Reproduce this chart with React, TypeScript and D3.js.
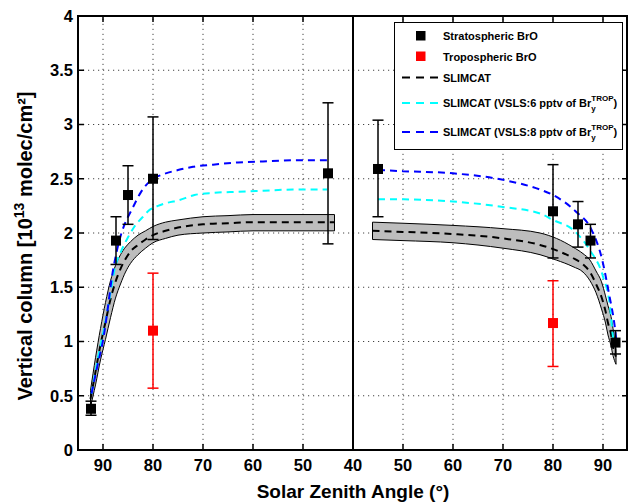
import React from "react";
import * as d3 from "d3";

// ---------- DATA ----------
const Y_TICKS = [0, 0.5, 1, 1.5, 2, 2.5, 3, 3.5, 4];
const Y_TICK_LABELS = ["0", "0.5", "1", "1.5", "2", "2.5", "3", "3.5", "4"];
const X_TICKS_LEFT = [90, 80, 70, 60, 50, 40];
const X_TICKS_RIGHT = [50, 60, 70, 80, 90];

// Stratospheric BrO (left = sunrise/AM branch, right = PM branch)
const stratSzaL = [92.4, 87.4, 85, 80, 45];
const stratValL = [0.38, 1.93, 2.35, 2.5, 2.55];
const stratLoL = [0.32, 1.71, 2.08, 1.94, 1.9];
const stratHiL = [0.45, 2.15, 2.62, 3.07, 3.2];

const stratSzaR = [45, 80, 85, 87.5, 92.5];
const stratValR = [2.59, 2.2, 2.08, 1.93, 0.99];
const stratLoR = [2.15, 1.77, 1.87, 1.77, 0.885];
const stratHiR = [3.04, 2.63, 2.29, 2.08, 1.1];

// Tropospheric BrO
const tropSzaL = [80];
const tropValL = [1.1];
const tropLoL = [0.57];
const tropHiL = [1.63];

const tropSzaR = [80];
const tropValR = [1.17];
const tropLoR = [0.77];
const tropHiR = [1.56];

// SLIMCAT (left) with uncertainty band
const slimSzaL = [92.5, 91.5, 90.5, 89.5, 88.5, 87.5, 86.5, 85.5, 84.5, 83, 81.5, 80, 77.5, 75, 70, 65, 60, 50, 43.7];
const slimValL = [0.47, 0.72, 0.97, 1.18, 1.39, 1.55, 1.67, 1.76, 1.83, 1.89, 1.94, 1.98, 2.02, 2.05, 2.08, 2.09, 2.1, 2.1, 2.1];
const slimHiL = [0.55, 0.85, 1.12, 1.36, 1.56, 1.7, 1.8, 1.87, 1.92, 1.98, 2.02, 2.06, 2.1, 2.12, 2.15, 2.16, 2.17, 2.17, 2.17];
const slimLoL = [0.4, 0.6, 0.83, 1.02, 1.22, 1.4, 1.53, 1.64, 1.72, 1.8, 1.86, 1.91, 1.95, 1.98, 2.0, 2.01, 2.02, 2.02, 2.02];

// SLIMCAT (right) with uncertainty band
const slimSzaR = [43.9, 50, 60, 70, 77.4, 80.7, 84, 86, 87.4, 88.6, 89.7, 90.5, 91, 91.6, 92, 92.6];
const slimValR = [2.02, 2.01, 1.99, 1.95, 1.89, 1.84, 1.77, 1.71, 1.64, 1.53, 1.41, 1.28, 1.17, 1.07, 0.95, 0.86];
const slimHiR = [2.1, 2.09, 2.07, 2.04, 2.0, 1.95, 1.87, 1.81, 1.75, 1.65, 1.55, 1.42, 1.33, 1.23, 1.12, 0.92];
const slimLoR = [1.94, 1.93, 1.91, 1.86, 1.8, 1.75, 1.69, 1.64, 1.56, 1.45, 1.3, 1.17, 1.06, 0.96, 0.87, 0.79];

// SLIMCAT VSLS 6 pptv (cyan)
const vsls6SzaL = [92.3, 91, 89.7, 88.5, 87.7, 86.3, 85, 83.7, 82, 81, 79, 77, 75, 71.7, 68, 63, 58, 52, 45.2];
const vsls6ValL = [0.52, 0.85, 1.14, 1.45, 1.66, 1.84, 1.96, 2.06, 2.15, 2.2, 2.25, 2.28, 2.3, 2.35, 2.37, 2.38, 2.39, 2.4, 2.4];
const vsls6SzaR = [45, 50, 60, 70, 77.4, 80, 84, 87.4, 90, 91.4, 92, 92.3];
const vsls6ValR = [2.31, 2.31, 2.29, 2.24, 2.18, 2.12, 2.03, 1.84, 1.6, 1.32, 1.04, 0.95];

// SLIMCAT VSLS 8 pptv (blue)
const vsls8SzaL = [92.3, 91, 90, 89, 88.3, 87.3, 86.3, 85.3, 84.3, 82.5, 80.3, 78, 75, 72, 68, 63, 58, 52, 45];
const vsls8ValL = [0.52, 0.8, 1.01, 1.32, 1.57, 1.82, 2.0, 2.12, 2.21, 2.37, 2.49, 2.54, 2.58, 2.61, 2.63, 2.65, 2.66, 2.67, 2.67];
const vsls8SzaR = [45, 50, 60, 70, 77.4, 80, 84.5, 87.7, 89.8, 91.2, 92.4, 92.7];
const vsls8ValR = [2.58, 2.57, 2.55, 2.49, 2.4, 2.35, 2.2, 2.03, 1.76, 1.44, 1.12, 1.0];

// ---------- LAYOUT ----------
const W = 629;
const H = 502;
const X0 = 78;
const XM = 353;
const X1 = 628;
const Y0 = 450;
const Y1 = 16;
const FONT = "'Liberation Sans', Arial, Helvetica, sans-serif";

const xL = d3.scaleLinear().domain([95, 40]).range([X0, XM]);
const xR = d3.scaleLinear().domain([40, 95]).range([XM, X1]);
const y = d3.scaleLinear().domain([0, 4]).range([Y0, Y1]);

type Sc = d3.ScaleLinear<number, number>;

function pts(sc: Sc, xs: number[], ys: number[]) {
  return xs.map((s, i) => [sc(s), y(ys[i])] as [number, number]).sort((a, b) => a[0] - b[0]);
}

const lineGen = d3.line<[number, number]>().curve(d3.curveMonotoneX);

function bandPath(sc: Sc, xs: number[], lo: number[], hi: number[]) {
  const d = xs
    .map((s, i) => ({ x: sc(s), lo: y(lo[i]), hi: y(hi[i]) }))
    .sort((a, b) => a.x - b.x);
  const a = d3
    .area<{ x: number; lo: number; hi: number }>()
    .x((p) => p.x)
    .y0((p) => p.lo)
    .y1((p) => p.hi)
    .curve(d3.curveMonotoneX);
  return a(d) || "";
}

function ErrPts(props: { sc: Sc; xs: number[]; v: number[]; lo: number[]; hi: number[]; color: string }) {
  const { sc, xs, v, lo, hi, color } = props;
  const cap = 5.5;
  const sq = 10;
  return (
    <g>
      {xs.map((s, i) => {
        const cx = sc(s);
        return (
          <g key={i}>
            <line x1={cx} x2={cx} y1={y(lo[i])} y2={y(hi[i])} stroke={color} strokeWidth={1.5} />
            <line x1={cx - cap} x2={cx + cap} y1={y(lo[i])} y2={y(lo[i])} stroke={color} strokeWidth={1.5} />
            <line x1={cx - cap} x2={cx + cap} y1={y(hi[i])} y2={y(hi[i])} stroke={color} strokeWidth={1.5} />
            <rect x={cx - sq / 2} y={y(v[i]) - sq / 2} width={sq} height={sq} fill={color} />
          </g>
        );
      })}
    </g>
  );
}

export default function App() {
  const gridDash = "1.2,3.8";
  const dash = "7,5";
  return (
    <svg
      width={W}
      height={H}
      style={{ position: "absolute", left: 0, top: 0, background: "#fff" }}
      fontFamily={FONT}
      fontWeight="bold"
    >
      <rect x={0} y={0} width={W} height={H} fill="#fff" />
      {/* grid */}
      <g stroke="#444" strokeWidth={1} strokeDasharray={gridDash}>
        {Y_TICKS.slice(1, -1).map((t) => (
          <line key={"gy" + t} x1={X0} x2={X1} y1={y(t)} y2={y(t)} />
        ))}
        {X_TICKS_LEFT.filter((t) => t !== 40).map((t) => (
          <line key={"gxl" + t} x1={xL(t)} x2={xL(t)} y1={Y0} y2={Y1} />
        ))}
        {X_TICKS_RIGHT.map((t) => (
          <line key={"gxr" + t} x1={xR(t)} x2={xR(t)} y1={Y0} y2={Y1} />
        ))}
      </g>

      {/* SLIMCAT bands */}
      <path d={bandPath(xL, slimSzaL, slimLoL, slimHiL)} fill="#bdbdbd" stroke="#000" strokeWidth={1} />
      <path d={bandPath(xR, slimSzaR, slimLoR, slimHiR)} fill="#bdbdbd" stroke="#000" strokeWidth={1} />

      {/* model lines */}
      <g fill="none" strokeWidth={2} strokeDasharray={dash}>
        <path d={lineGen(pts(xL, slimSzaL, slimValL)) || ""} stroke="#000" />
        <path d={lineGen(pts(xR, slimSzaR, slimValR)) || ""} stroke="#000" />
        <path d={lineGen(pts(xL, vsls6SzaL, vsls6ValL)) || ""} stroke="#00ffff" />
        <path d={lineGen(pts(xR, vsls6SzaR, vsls6ValR)) || ""} stroke="#00ffff" />
        <path d={lineGen(pts(xL, vsls8SzaL, vsls8ValL)) || ""} stroke="#0000ff" />
        <path d={lineGen(pts(xR, vsls8SzaR, vsls8ValR)) || ""} stroke="#0000ff" />
      </g>

      {/* observations */}
      <ErrPts sc={xL} xs={stratSzaL} v={stratValL} lo={stratLoL} hi={stratHiL} color="#000" />
      <ErrPts sc={xR} xs={stratSzaR} v={stratValR} lo={stratLoR} hi={stratHiR} color="#000" />
      <ErrPts sc={xL} xs={tropSzaL} v={tropValL} lo={tropLoL} hi={tropHiL} color="#ff0000" />
      <ErrPts sc={xR} xs={tropSzaR} v={tropValR} lo={tropLoR} hi={tropHiR} color="#ff0000" />

      {/* ticks */}
      <g stroke="#000" strokeWidth={1.5}>
        {Y_TICKS.map((t) => (
          <g key={"ty" + t}>
            <line x1={X0} x2={X0 + 6} y1={y(t)} y2={y(t)} />
            <line x1={X1 - 6} x2={X1} y1={y(t)} y2={y(t)} />
          </g>
        ))}
        {X_TICKS_LEFT.map((t) => (
          <g key={"txl" + t}>
            <line x1={xL(t)} x2={xL(t)} y1={Y0} y2={Y0 - 6} />
            <line x1={xL(t)} x2={xL(t)} y1={Y1} y2={Y1 + 6} />
          </g>
        ))}
        {X_TICKS_RIGHT.map((t) => (
          <g key={"txr" + t}>
            <line x1={xR(t)} x2={xR(t)} y1={Y0} y2={Y0 - 6} />
            <line x1={xR(t)} x2={xR(t)} y1={Y1} y2={Y1 + 6} />
          </g>
        ))}
      </g>

      {/* frame */}
      <rect x={X0} y={Y1} width={X1 - X0 - 1} height={Y0 - Y1} fill="none" stroke="#000" strokeWidth={2} />
      <line x1={XM} x2={XM} y1={Y1} y2={Y0} stroke="#000" strokeWidth={2} />

      {/* tick labels */}
      <g fontSize={16.5} fill="#000">
        {Y_TICKS.map((t, i) => (
          <text key={"ly" + t} x={X0 - 5} y={y(t)} dy="0.36em" textAnchor="end">
            {Y_TICK_LABELS[i]}
          </text>
        ))}
        {X_TICKS_LEFT.map((t) => (
          <text key={"lxl" + t} x={xL(t)} y={471} textAnchor="middle">
            {String(t)}
          </text>
        ))}
        {X_TICKS_RIGHT.map((t) => (
          <text key={"lxr" + t} x={xR(t)} y={471} textAnchor="middle">
            {String(t)}
          </text>
        ))}
      </g>

      {/* axis labels */}
      <text x={XM} y={498} textAnchor="middle" fontSize={19}>
        Solar Zenith Angle (°)
      </text>
      <text transform="translate(32,246) rotate(-90)" textAnchor="middle" fontSize={20}>
        Vertical column [10
        <tspan dy={-8} fontSize={14}>13</tspan>
        <tspan dy={8}> molec/cm²]</tspan>
      </text>

      {/* legend */}
      <g>
        <rect x={394.5} y={22.5} width={228} height={127} fill="#fff" stroke="#000" strokeWidth={1} />
        <rect x={416} y={31} width={9.5} height={9.5} fill="#000" />
        <rect x={416} y={51.5} width={9.5} height={9.5} fill="#ff0000" />
        <g strokeWidth={2} strokeDasharray="8,6">
          <line x1={402} x2={440} y1={77.5} y2={77.5} stroke="#000" />
          <line x1={402} x2={440} y1={103} y2={103} stroke="#00ffff" />
          <line x1={402} x2={440} y1={132} y2={132} stroke="#0000ff" />
        </g>
        <g fontSize={11} fill="#000">
          <text x={443} y={40}>Stratospheric BrO</text>
          <text x={443} y={60.5}>Tropospheric BrO</text>
          <text x={443} y={81.5}>SLIMCAT</text>
          <text x={443} y={107}>
            SLIMCAT (VSLS:6 pptv of Br
            <tspan dy={4} fontSize={8}>y</tspan>
            <tspan dx={-4.4} dy={-10} fontSize={8}>TROP</tspan>
            <tspan dy={6}>)</tspan>
          </text>
          <text x={443} y={136}>
            SLIMCAT (VSLS:8 pptv of Br
            <tspan dy={4} fontSize={8}>y</tspan>
            <tspan dx={-4.4} dy={-10} fontSize={8}>TROP</tspan>
            <tspan dy={6}>)</tspan>
          </text>
        </g>
      </g>
    </svg>
  );
}
